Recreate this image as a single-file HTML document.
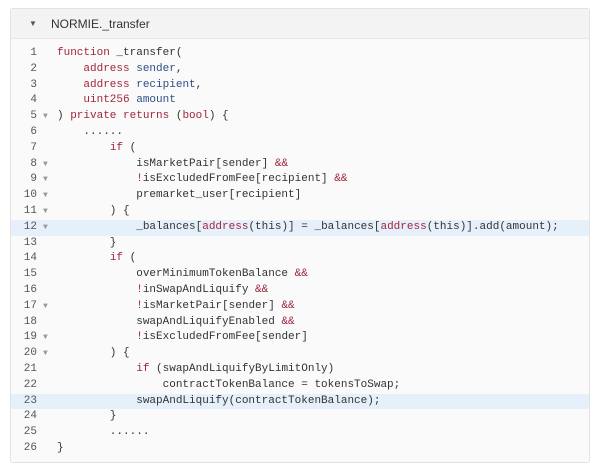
<!DOCTYPE html>
<html><head><meta charset="utf-8"><style>
body{margin:0;width:600px;height:471px;background:#fff;overflow:hidden}
.box{position:absolute;left:10px;top:8px;width:580px;height:455px;border:1px solid #e3e3e3;border-radius:3px;background:#fafafa;box-sizing:border-box}
.hdr{position:absolute;left:0;top:0;right:0;height:29px;background:#f3f3f3;border-bottom:1px solid #e6e6e6;font:12px "Liberation Sans",sans-serif;color:#333}
.hdr .t{position:absolute;left:40px;top:8px}
.hdr .a{position:absolute;left:18px;top:10px;font-size:8px;color:#555}
.l{position:absolute;left:0;width:578px;height:15.8px;font:11px/15.8px "Liberation Mono",monospace;color:#333;white-space:pre}
.l.h{background:#e6f0fa}
.n{position:absolute;left:0;width:26px;text-align:right;color:#555}
.f{position:absolute;left:32px;color:#999;font-size:8px}
.c{position:absolute;left:46px}
.k{color:#a1263f}.v{color:#2c4f86}
</style></head><body><div class="box">
<div class="hdr"><span class="a">▼</span><span class="t">NORMIE._transfer</span></div>
<div id="code"></div>
</div>
<script>
var L=[
['<span class="k">function</span> _transfer(',0],
['    <span class="k">address</span> <span class="v">sender</span>,',0],
['    <span class="k">address</span> <span class="v">recipient</span>,',0],
['    <span class="k">uint256</span> <span class="v">amount</span>',0],
[') <span class="k">private</span> <span class="k">returns</span> (<span class="k">bool</span>) {',1],
['    ......',0],
['        <span class="k">if</span> (',0],
['            isMarketPair[sender] <span class="k">&amp;&amp;</span>',1],
['            <span class="k">!</span>isExcludedFromFee[recipient] <span class="k">&amp;&amp;</span>',1],
['            premarket_user[recipient]',1],
['        ) {',1],
['            _balances[<span class="k">address</span>(this)] = _balances[<span class="k">address</span>(this)].add(amount);',1,1],
['        }',0],
['        <span class="k">if</span> (',0],
['            overMinimumTokenBalance <span class="k">&amp;&amp;</span>',0],
['            <span class="k">!</span>inSwapAndLiquify <span class="k">&amp;&amp;</span>',0],
['            <span class="k">!</span>isMarketPair[sender] <span class="k">&amp;&amp;</span>',1],
['            swapAndLiquifyEnabled <span class="k">&amp;&amp;</span>',0],
['            <span class="k">!</span>isExcludedFromFee[sender]',1],
['        ) {',1],
['            <span class="k">if</span> (swapAndLiquifyByLimitOnly)',0],
['                contractTokenBalance = tokensToSwap;',0],
['            swapAndLiquify(contractTokenBalance);',0,1],
['        }',0],
['        ......',0],
['}',0]];
var h='';
L.forEach(function(x,i){var top=37+i*15.8;
h+='<div class="l'+(x[2]?' h':'')+'" style="top:'+top+'px"><span class="n">'+(i+1)+'</span>'+(x[1]?'<span class="f">▼</span>':'')+'<span class="c">'+x[0]+'</span></div>';});
document.getElementById('code').innerHTML=h;
</script>
</body></html>
